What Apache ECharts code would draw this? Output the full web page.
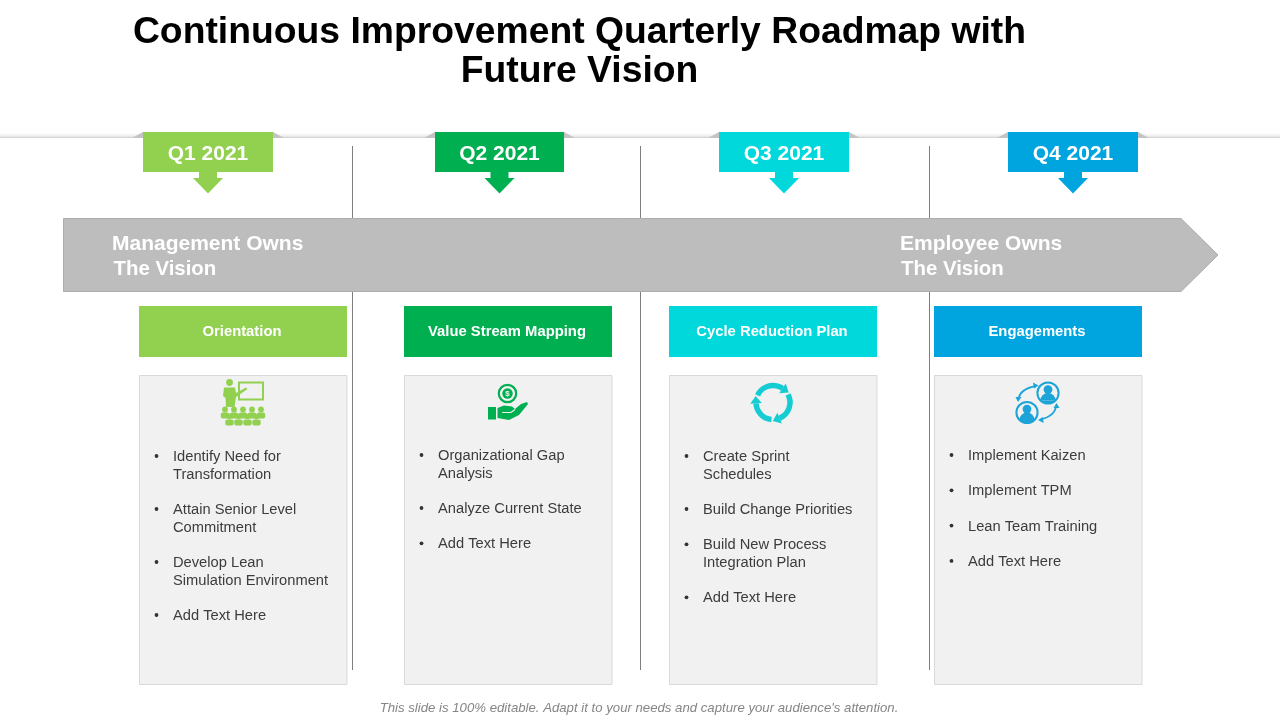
<!DOCTYPE html>
<html>
<head>
<meta charset="utf-8">
<title>Continuous Improvement Quarterly Roadmap</title>
<script src="https://cdn.jsdelivr.net/npm/echarts@6/dist/echarts.min.js"></script>
<style>
html, body { margin: 0; padding: 0; background: #fff; }
#main { width: 1280px; height: 720px; }
</style>
</head>
<body>
<div id="main"></div>
<script>
// slide content
const titleLines = ['Continuous Improvement Quarterly Roadmap with', 'Future Vision'];
const quarters = ['Q1 2021', 'Q2 2021', 'Q3 2021', 'Q4 2021'];
const phases = ['Orientation', 'Value Stream Mapping', 'Cycle Reduction Plan', 'Engagements'];
const ownerLeft = ['Management Owns', 'The Vision'];
const ownerRight = ['Employee Owns', 'The Vision'];
const itemsQ1 = [['Identify Need for', 'Transformation'], ['Attain Senior Level', 'Commitment'], ['Develop Lean', 'Simulation Environment'], ['Add Text Here']];
const itemsQ2 = [['Organizational Gap', 'Analysis'], ['Analyze Current State'], ['Add Text Here']];
const itemsQ3 = [['Create Sprint', 'Schedules'], ['Build Change Priorities'], ['Build New Process', 'Integration Plan'], ['Add Text Here']];
const itemsQ4 = [['Implement Kaizen'], ['Implement TPM'], ['Lean Team Training'], ['Add Text Here']];
const footnote = "This slide is 100% editable. Adapt it to your needs and capture your audience's attention.";

// layout
const FONT = '"Liberation Sans", Arial, sans-serif';
const colors = ['#92d050', '#00b050', '#00d8dc', '#00a5e0'];
const tabLeft = [143, 435, 719, 1008];
const tabWidth = [130, 129, 130, 130];
const cardLeft = [139, 404, 669, 934];
const dividers = [352.5, 640.5, 929.5];
const itemTop = [456, 455, 456, 455];
const allItems = [itemsQ1, itemsQ2, itemsQ3, itemsQ4];

let els = [];

function text(str, x, y, size, fill, opts) {
    els.push({
        type: 'text', z: 10,
        style: Object.assign({
            text: str, x: x, y: y + 1, fill: fill,
            fontSize: size, fontFamily: FONT,
            align: 'left', verticalAlign: 'middle',
            textAlign: 'left', textVerticalAlign: 'middle'
        }, opts || {})
    });
}
function centered(str, x, y, size, fill, opts) {
    text(str, x, y, size, fill, Object.assign({ align: 'center', textAlign: 'center' }, opts));
}
function poly(points, fill, extra) {
    els.push({ type: 'polygon', z: (extra && extra.z) || 5, shape: { points: points }, style: Object.assign({ fill: fill }, extra && extra.style) });
}
function rect(x, y, w, h, style, z, r) {
    els.push({ type: 'rect', z: z || 5, shape: { x: x, y: y, width: w, height: h, r: r || 0 }, style: style });
}
function circle(cx, cy, r, style, z) {
    els.push({ type: 'circle', z: z || 6, shape: { cx: cx, cy: cy, r: r }, style: style });
}

// title
centered(titleLines[0], 579.5, 31.5, 37.3, '#000', { fontWeight: 'bold' });
centered(titleLines[1], 579.5, 70.5, 37.3, '#000', { fontWeight: 'bold' });

// top rule
els.push({
    type: 'rect', z: 1, shape: { x: 0, y: 133, width: 1280, height: 7 },
    style: { fill: { type: 'linear', x: 0, y: 0, x2: 0, y2: 1, colorStops: [
        { offset: 0, color: '#ffffff' }, { offset: 0.4, color: '#efefef' }, { offset: 0.74, color: '#d2d2d2' }, { offset: 0.78, color: '#ffffff' }, { offset: 1, color: '#ffffff' }
    ] } }
});

// dividers sit under the grey arrow
dividers.forEach(x => {
    els.push({ type: 'line', z: 2, shape: { x1: x, y1: 146, x2: x, y2: 670 }, style: { stroke: '#7f7f7f', lineWidth: 1 } });
});

// quarter tabs
quarters.forEach((q, i) => {
    const x = tabLeft[i], w = tabWidth[i], c = colors[i], mid = x + w / 2;
    poly([[x - 11, 138], [x, 132], [x, 138]], '#c4c4c4', { z: 3 });
    poly([[x + w, 132], [x + w + 11, 138], [x + w, 138]], '#c4c4c4', { z: 3 });
    rect(x, 132, w, 40, { fill: c }, 4);
    poly([[mid - 9, 172], [mid + 9, 172], [mid + 9, 178], [mid + 15, 178], [mid, 193.5], [mid - 15, 178], [mid - 9, 178]], c, { z: 4 });
    centered(q, mid, 153.5, 21, '#fff', { fontWeight: 'bold' });
});

// big grey arrow
poly([[63.5, 218.5], [1181, 218.5], [1218, 255], [1181, 291.5], [63.5, 291.5]], '#bdbdbd', { z: 3, style: { stroke: '#adadad', lineWidth: 1 } });
text(ownerLeft[0], 112, 243, 21, '#fff', { fontWeight: 'bold' });
text(ownerLeft[1], 113.5, 268, 20.4, '#fff', { fontWeight: 'bold' });
text(ownerRight[0], 900, 243, 21, '#fff', { fontWeight: 'bold' });
text(ownerRight[1], 901, 268, 20.4, '#fff', { fontWeight: 'bold' });

// phase headers, cards and bullet lists
phases.forEach((p, i) => {
    const x = cardLeft[i];
    rect(x, 306, 208, 51, { fill: colors[i] }, 4);
    centered(p, x + 103, 331, 14.8, '#fff', { fontWeight: 'bold' });
    rect(x + 0.5, 375.5, 207.5, 309, { fill: '#f1f1f1', stroke: '#d9d9d9', lineWidth: 1 }, 4);
    let y = itemTop[i];
    allItems[i].forEach(lines => {
        circle(x + 17.5, y, 1.9, { fill: '#333' }, 6);
        lines.forEach((l, k) => {
            text(l, x + 34, y, 14.7, '#3c3c3c');
            y += k < lines.length - 1 ? 17.7 : 35.3;
        });
    });
});

// --- icons ---
function iconPresenter(c) {
    rect(239, 382.5, 24, 17, { fill: 'none', stroke: c, lineWidth: 2 }, 6);
    circle(229.5, 382.5, 3.4, { fill: c });
    poly([[224, 387.5], [235, 387.5], [236, 393], [246, 387.5], [247.5, 389], [236, 397], [234.5, 407], [226, 407], [225.5, 398], [223, 396]], c, { z: 6 });
    [225, 234, 243, 252, 261].forEach(x => {
        circle(x, 409.5, 2.9, { fill: c });
        rect(x - 4.2, 412.5, 8.4, 6, { fill: c }, 6, 2);
    });
    [229.5, 238.5, 247.5, 256.5].forEach(x => {
        circle(x, 416.5, 2.7, { fill: c }, 7);
        rect(x - 4.2, 419.5, 8.4, 6, { fill: c }, 7, 2);
    });
}
function iconHand(c) {
    circle(507.5, 393.5, 8.7, { fill: 'none', stroke: c, lineWidth: 2.2 });
    circle(507.5, 393.5, 5.2, { fill: c });
    els.push({ type: 'text', z: 8, style: { text: '$', x: 507.5, y: 393.8, fill: '#f1f1f1', fontSize: 8, fontWeight: 'bold', fontFamily: FONT, align: 'center', verticalAlign: 'middle', textAlign: 'center', textVerticalAlign: 'middle' } });
    rect(488, 407, 8, 12.5, { fill: c }, 6);
    poly([[497.5, 408], [504, 405.5], [512, 406.5], [515, 409], [521, 404], [527, 402], [528, 404], [519, 415], [509, 420], [497.5, 418]], c, { z: 6 });
    els.push({ type: 'polyline', z: 7, shape: { points: [[502, 412.5], [511, 412.5], [515, 409.5]] }, style: { fill: 'none', stroke: '#f1f1f1', lineWidth: 1.2 } });
}
function iconCycle(c) {
    const cx = 773, cy = 402.5, r = 17;
    // clockwise arcs, each ending in an arrow head
    [[205, 304], [-28, 67], [95, 177]].forEach(a => {
        const s = a[0] * Math.PI / 180, e = a[1] * Math.PI / 180;
        els.push({ type: 'arc', z: 6, shape: { cx: cx, cy: cy, r: r, startAngle: s, endAngle: e, clockwise: true }, style: { fill: 'none', stroke: c, lineWidth: 5.5 } });
        const px = cx + r * Math.cos(e), py = cy + r * Math.sin(e);
        const tx = -Math.sin(e), ty = Math.cos(e), nx = Math.cos(e), ny = Math.sin(e);
        poly([[px + nx * 5.8, py + ny * 5.8], [px - nx * 5.8, py - ny * 5.8], [px + tx * 7.5, py + ty * 7.5]], c, { z: 6 });
    });
}
function iconPerson(cx, cy, c) {
    circle(cx, cy, 10.6, { fill: 'none', stroke: c, lineWidth: 2 });
    circle(cx, cy - 3.4, 4.4, { fill: c });
    els.push({ type: 'sector', z: 6, shape: { cx: cx, cy: cy + 7.6, r0: 0, r: 7.6, startAngle: Math.PI, endAngle: 2 * Math.PI, clockwise: true }, style: { fill: c } });
    poly([[cx - 7.6, cy + 7.4], [cx + 7.6, cy + 7.4], [cx + 3.5, cy + 10], [cx - 3.5, cy + 10]], c, { z: 6 });
}
function iconPeople(c) {
    iconPerson(1048, 393, c);
    iconPerson(1027, 412.5, c);
    els.push({ type: 'bezierCurve', z: 6, shape: { x1: 1018.5, y1: 399, cpx1: 1020, cpy1: 389, x2: 1036, y2: 386 }, style: { fill: 'none', stroke: c, lineWidth: 1.8 } });
    poly([[1038.5, 385.5], [1033, 382.5], [1034, 388.5]], c, { z: 6 });
    poly([[1018, 402], [1015.5, 397], [1021.5, 397]], c, { z: 6 });
    els.push({ type: 'bezierCurve', z: 6, shape: { x1: 1056, y1: 406, cpx1: 1055, cpy1: 416, x2: 1040.5, y2: 419.5 }, style: { fill: 'none', stroke: c, lineWidth: 1.8 } });
    poly([[1056.5, 403], [1053.5, 408], [1059.5, 408]], c, { z: 6 });
    poly([[1038, 420], [1043, 417], [1043.5, 423]], c, { z: 6 });
}
iconPresenter(colors[0]);
iconHand(colors[1]);
iconCycle('#14ccd2');
iconPeople('#1ca4d8');

// footnote
centered(footnote, 639, 707, 13.2, '#858585', { fontStyle: 'italic' });

const chart = echarts.init(document.querySelector('#main'));
chart.setOption({
    animation: false,
    backgroundColor: '#ffffff',
    graphic: { elements: els }
});
</script>
</body>
</html>
